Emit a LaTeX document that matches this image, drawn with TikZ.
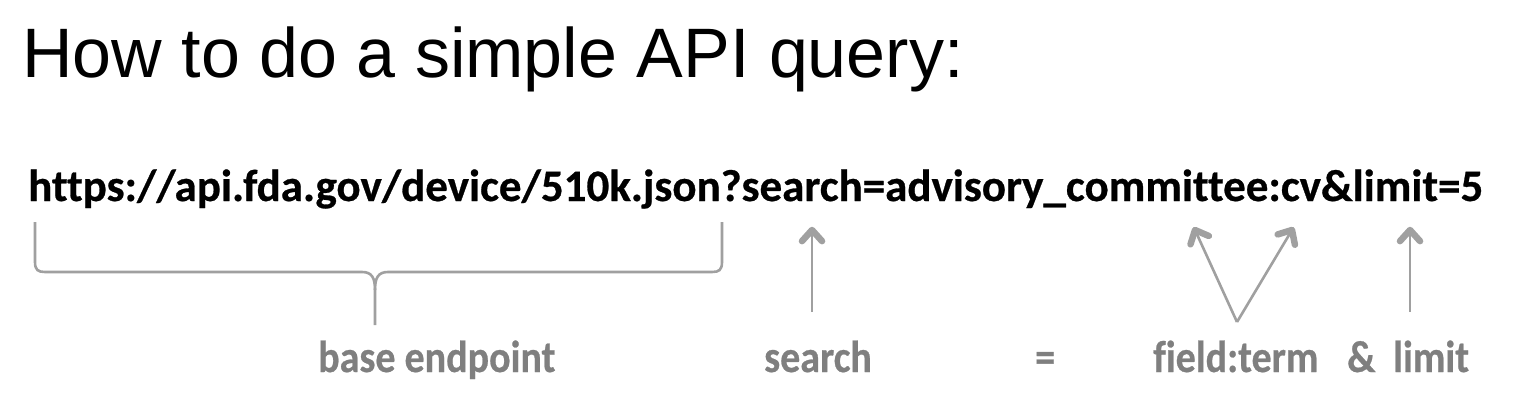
\documentclass[tikz,border=0pt]{standalone}
\usepackage{fontspec}
\setmainfont{Liberation Sans}
\newfontfamily\calibbold[Ligatures=NoCommon,FakeBold=0.6]{Carlito Bold}
\usetikzlibrary{calc}
\definecolor{linegray}{HTML}{A0A0A0}
\definecolor{labelgray}{HTML}{7F7F7F}
\newcommand{\tallish}[1]{\scalebox{1}[1.12]{#1}}
\newcommand{\barbhead}[2]{\draw[barb] ($(#1)!15pt!42:(#2)$) -- (#1) -- ($(#1)!15pt!-42:(#2)$);}
\tikzset{
  title/.style={anchor=base west, inner sep=0pt, font=\fontsize{70}{70}\selectfont},
  url/.style={anchor=base west, inner sep=0pt, font=\calibbold\fontsize{45}{45}\selectfont},
  lbl/.style={anchor=base west, inner sep=0pt, text=labelgray, font=\calibbold\fontsize{40}{40}\selectfont},
  conn/.style={draw=linegray, line width=2.6pt},
  barb/.style={draw=linegray, line width=6.5pt, line cap=round, line join=round},
}
\begin{document}
\begin{tikzpicture}[x=1pt,y=-1pt]
\useasboundingbox (0,0) rectangle (1520,418);
\node[title] (ttl) at (22,77) {How to do a simple API query:};
\node[url] (u) at (28,201) {https://api.fda.gov/device/510k.json?search=advisory\_committee:cv\&limit=5};
\node[lbl] (lbase) at (318,372) {\tallish{base endpoint}};
\node[lbl] (lsearch) at (764,372) {\tallish{search}};
\node[lbl] (leq) at (1035,372) {\tallish{=}};
\node[lbl] (lfield) at (1153,372) {\tallish{f\kern0ptield:term}};
\node[lbl] (lamp) at (1347,372) {\tallish{\&}};
\node[lbl] (llimit) at (1393,372) {\tallish{limit}};
% brace
\coordinate (bl) at (35,222);
\coordinate (br) at (722,222);
\coordinate (bm) at (375,325);
\draw[conn] (bl) -- (35,262) .. controls (35,270) and (38,272) .. (45,272) -- (362,272) .. controls (372,272) and (375,278) .. (375,290) -- (bm);
\draw[conn] (br) -- (722,262) .. controls (722,270) and (719,272) .. (712,272) -- (388,272) .. controls (378,272) and (375,278) .. (375,290);
% arrows
\coordinate (s0) at (812,312); \coordinate (s1) at (812,230);
\coordinate (v0) at (1237,322); \coordinate (v1) at (1195,230); \coordinate (v2) at (1292,230);
\coordinate (l0) at (1410,312); \coordinate (l1) at (1410,230);
\draw[conn] (s0) -- (s1);
\draw[conn] (v0) -- (v1);
\draw[conn] (v0) -- (v2);
\draw[conn] (l0) -- (l1);
\barbhead{s1}{s0}
\barbhead{v1}{v0}
\barbhead{v2}{v0}
\barbhead{l1}{l0}
\end{tikzpicture}
\end{document}
